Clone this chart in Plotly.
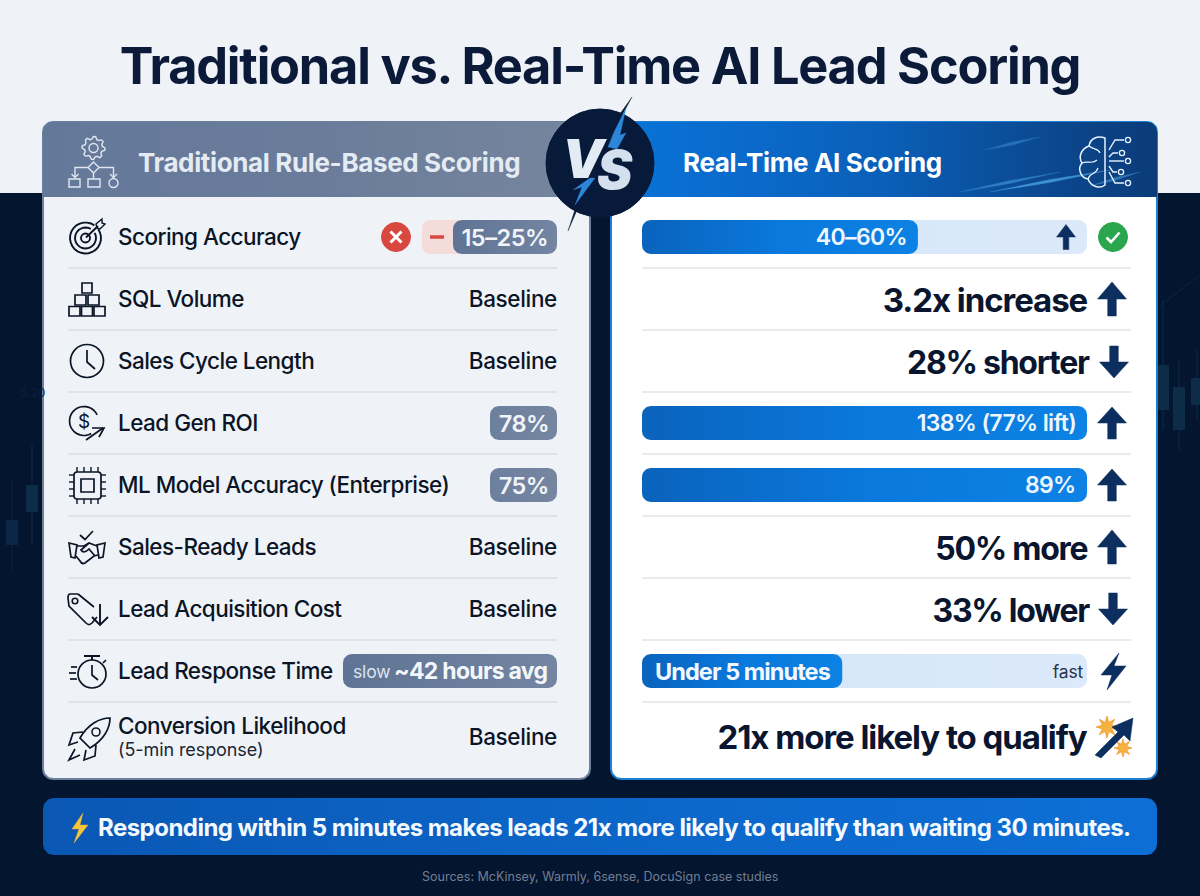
import json
import math
import plotly.graph_objects as go

title = "Traditional vs. Real-Time AI Lead Scoring"
left_header = "Traditional Rule-Based Scoring"
right_header = "Real-Time AI Scoring"
footer = "Responding within 5 minutes makes leads 21x more likely to qualify than waiting 30 minutes."
sources = "Sources: McKinsey, Warmly, 6sense, DocuSign case studies"

metrics = ["Scoring Accuracy", "SQL Volume", "Sales Cycle Length", "Lead Gen ROI",
           "ML Model Accuracy (Enterprise)", "Sales-Ready Leads", "Lead Acquisition Cost",
           "Lead Response Time", "Conversion Likelihood"]
traditional = ["15–25%", "Baseline", "Baseline", "78%", "75%", "Baseline", "Baseline",
               "~42 hours avg", "Baseline"]
ai_values = ["40–60%", "3.2x increase", "28% shorter", "138% (77% lift)", "89%", "50% more",
             "33% lower", "Under 5 minutes", "21x more likely to qualify"]
# how far each blue bar fills its track, None = plain text row
ai_fill = [0.62, None, None, 1.0, 1.0, None, None, 0.45, None]
# faint candles behind the panels
candle_x = [12, 32, 1163, 1179, 1197]
candle_open = [520, 485, 365, 387, 378]
candle_close = [545, 512, 410, 430, 405]
candle_low = [480, 445, 300, 360, 350]
candle_high = [570, 545, 430, 450, 420]

NAVY = "#04152f"
LIGHT = "#eff3f8"
INK = "#0b1526"
ARROW = "#0d2f5f"
SLATE = "#6c7f9d"
FONT = "Inter"

row_y = [237, 299, 361, 423, 485, 547, 609, 671, 737]
div_y = [268, 330, 392, 454, 516, 578, 640, 702]
L0, L1 = 68, 557
R0, R1 = 642, 1131
TRACK_END = 1087
BAR_H = 34

fig = go.Figure()
shapes = []
notes = []
spacing = []  # letter spacing per annotation, in em


def rr(x0, y0, x1, y1, r, top=True, bottom=True):
    xs, ys = [], []
    corners = [(x1 - r, y0 + r, -90, 0, top), (x1 - r, y1 - r, 0, 90, bottom),
               (x0 + r, y1 - r, 90, 180, bottom), (x0 + r, y0 + r, 180, 270, top)]
    for cx, cy, a0, a1, on in corners:
        if on:
            for i in range(9):
                a = math.radians(a0 + (a1 - a0) * i / 8)
                xs.append(cx + r * math.cos(a))
                ys.append(cy + r * math.sin(a))
        else:
            xs.append(x1 if cx > (x0 + x1) / 2 else x0)
            ys.append(y1 if cy > (y0 + y1) / 2 else y0)
    xs.append(xs[0])
    ys.append(ys[0])
    return xs, ys


def box(x0, y0, x1, y1, r, colors, line=None, lw=0, top=True, bottom=True, opacity=1):
    xs, ys = rr(x0, y0, x1, y1, r, top, bottom)
    grad = None
    if isinstance(colors, str):
        fc = colors
    else:
        fc = colors[0]
        n = len(colors) - 1
        grad = dict(type="horizontal", colorscale=[[i / n, c] for i, c in enumerate(colors)])
    t = go.Scatter(x=xs, y=ys, mode="lines", fill="toself", fillcolor=fc, hoverinfo="skip",
                   opacity=opacity, line=dict(color=line or fc, width=lw), showlegend=False)
    if grad:
        t.fillgradient = grad
    fig.add_trace(t)


def txt(x, y, s, size, color=INK, anchor="left", weight=400, ls=0, style="normal"):
    notes.append(dict(x=x, y=y, text=s, showarrow=False, xanchor=anchor, yanchor="middle",
                      align=anchor, borderpad=0, borderwidth=0,
                      font=dict(family=FONT, size=size, color=color, weight=weight, style=style)))
    spacing.append(ls)


def path(d, color=INK, w=1.7, fill=None, layer="above", opacity=1):
    shapes.append(dict(type="path", path=d, layer=layer, opacity=opacity,
                       fillcolor=fill or "rgba(0,0,0,0)",
                       line=dict(color=color, width=w)))


def poly(pts, closed=False, **kw):
    d = "M" + " L".join(f"{x:.1f},{y:.1f}" for x, y in pts) + (" Z" if closed else "")
    path(d, **kw)


def circ(cx, cy, r, color=INK, w=1.7, fill=None, layer="above"):
    shapes.append(dict(type="circle", x0=cx - r, x1=cx + r, y0=cy - r, y1=cy + r, layer=layer,
                       fillcolor=fill or "rgba(0,0,0,0)",
                       line=dict(color=color, width=w)))


def arc(cx, cy, r, a0, a1, n=24):
    return [(cx + r * math.cos(math.radians(a0 + (a1 - a0) * i / n)),
             cy + r * math.sin(math.radians(a0 + (a1 - a0) * i / n))) for i in range(n + 1)]


def block(x0, y0, x1, y1, w=1.7):
    poly([(x0, y0), (x1, y0), (x1, y1), (x0, y1)], closed=True, w=w)


def arrow(cx, cy, h, hw, down=False):
    s = -1 if down else 1
    stem = hw * 0.3
    head = h * 0.5
    top = cy - s * h / 2
    bot = cy + s * h / 2
    poly([(cx, top), (cx + hw, top + s * head), (cx + stem, top + s * head), (cx + stem, bot),
          (cx - stem, bot), (cx - stem, top + s * head), (cx - hw, top + s * head)],
         closed=True, color=ARROW, w=0.5, fill=ARROW)


# page background
shapes.append(dict(type="rect", x0=0, x1=1200, y0=0, y1=896, layer="below", fillcolor=NAVY, line_width=0))
shapes.append(dict(type="rect", x0=0, x1=1200, y0=0, y1=193, layer="below", fillcolor=LIGHT, line_width=0))
for i in range(len(candle_x)):
    col = "#0a2546" if i == 0 else "#0c2c48"
    cx = candle_x[i]
    poly([(cx, candle_low[i]), (cx, candle_high[i])], color=col, w=1, layer="below")
    shapes.append(dict(type="rect", x0=cx - 6, x1=cx + 6, y0=candle_open[i], y1=candle_close[i],
                       layer="below", fillcolor=col, line_width=0))
poly([(1158, 307), (1200, 275)], color="#0c2745", w=1, layer="below")
txt(20, 392, "5.20", 12, color="#0b2040")

txt(600, 65, title, 50.5, color="#0a1a38", anchor="center", weight=750, ls=-0.024)

# left panel
box(43, 122, 590, 779, 10, LIGHT, line="#6c7f9d", lw=2)
box(43, 122, 590, 197, 10, ["#64789a", "#6a7c9a", "#77869e"], bottom=False)
txt(138, 162, left_header, 26, color="#e4ebf3", weight=650, ls=-0.014)

# right panel
box(611, 122, 1157, 779, 10, "#ffffff", line="#1c7fd2", lw=2)
box(611, 122, 1157, 197, 10, ["#0874d8", "#0a6acb", "#0a5fb8", "#0b4c96", "#0b3b78"], bottom=False)
txt(683, 162, right_header, 26, color="#ffffff", weight=650, ls=-0.014)
for x0, y0, x1, y1, op in [(960, 192, 1060, 172, .45), (990, 192, 1110, 170, .65),
                           (985, 150, 1040, 137, .35), (1090, 186, 1140, 172, .45)]:
    poly([(x0, y0), ((x0 + x1) / 2, (y0 + y1) / 2 - 1.5), (x1, y1), ((x0 + x1) / 2, (y0 + y1) / 2 + 1.5)],
         closed=True, color="#58b8f5", w=0.3, fill="#58b8f5", opacity=op)

# dividers
for y in div_y:
    poly([(L0, y), (L1, y)], color="#d9dee5", w=1.3, layer="above")
    poly([(R0, y), (R1, y)], color="#dfe3e8", w=1.3, layer="above")

# left column labels and values
for name, val, y in zip(metrics, traditional, row_y):
    if name == "Conversion Likelihood":
        txt(118, y - 12, name, 22.5, weight=450, ls=-0.022)
        txt(118, y + 12, "(5-min response)", 18, color="#1b2536", ls=-0.005)
    else:
        txt(118, y - 1, name, 22.5, weight=450, ls=-0.024)
    if val == "Baseline":
        txt(L1, y - 1, val, 22.5, anchor="right", weight=550, ls=-0.015)

# left pills
box(422, 220, 472, 254, 8, "#f3dcd9")
box(453, 220, L1, 254, 9, ["#5f7394", "#7385a2"])
txt(505, 237, traditional[0], 23.5, color="#f0f4f8", anchor="center", weight=600, ls=-0.02)
poly([(430, 237), (444, 237)], color="#d9483f", w=3.5)
circ(396, 237, 14.5, color="#d9483f", w=1, fill="#d9483f")
poly([(390.5, 231.5), (401.5, 242.5)], color="#ffffff", w=3)
poly([(401.5, 231.5), (390.5, 242.5)], color="#ffffff", w=3)
for i in [3, 4]:
    box(490, row_y[i] - 17, L1, row_y[i] + 17, 9, ["#6c7f9d", "#7686a1"])
    txt(523.5, row_y[i], traditional[i], 23.5, color="#f0f4f8", anchor="center", weight=600, ls=-0.02)
box(343, 654, L1, 688, 9, ["#5f7394", "#7385a2"])
txt(353, 671, "slow", 17.5, color="#dde4ee", ls=-0.01)
txt(547, 671, traditional[7], 23, color="#f4f7fa", anchor="right", weight=650, ls=-0.03)

# right column: bars from ai_fill, the rest as big text
track_w = TRACK_END - R0
for val, frac, y in zip(ai_values, ai_fill, row_y):
    if frac is None:
        if y in (row_y[1], row_y[8]):
            txt(TRACK_END, y + (1 if y != 737 else 0), val, 33, color="#0a1630", anchor="right", weight=700, ls=-0.032)
        else:
            txt(TRACK_END + (2 if val != "50% more" else 0), y + 1, val, 32, color="#0a1630", anchor="right", weight=700, ls=-0.04)
        continue
    box(R0, y - BAR_H / 2, TRACK_END, y + BAR_H / 2, 9, ["#d3e5fa", "#dbe9fa"])
    box(R0, y - BAR_H / 2, R0 + track_w * frac, y + BAR_H / 2, 9, ["#0a63bd", "#0a78dc", "#0c82e4"])
    if y == row_y[7]:
        txt(R0 + 13, y, val, 23.5, color="#f2f8ff", weight=650, ls=-0.04)
        txt(1083, y, "fast", 17.5, color="#27344a", anchor="right", ls=-0.01)
    else:
        txt(R0 + track_w * frac - 11, y, val, 23, color="#eef6ff", anchor="right", weight=600, ls=-0.028)

arrow(1066, 237, 25, 9.5)
circ(1113, 237, 14.5, color="#2aa64e", w=1, fill="#2aa64e")
poly([(1106.5, 237.5), (1111, 242), (1119.5, 232.5)], color="#ffffff", w=2.6)
arrow(1112, 299, 34, 14.5)
arrow(1114, 362, 32, 14.5, down=True)
arrow(1112, 423, 32, 14.5)
arrow(1112, 485, 32, 14.5)
arrow(1112, 547, 34, 14.5)
arrow(1113, 609, 32, 14.5, down=True)
poly([(1119, 653), (1101, 675), (1112, 675), (1107, 690), (1126, 666), (1114, 666)],
     closed=True, color=ARROW, w=0.5, fill=ARROW)

# diagonal arrow with bursts next to the 21x row
for bx, by, br in [(1107, 727, 11), (1123, 748, 9)]:
    star = []
    for k in range(16):
        rad = br if k % 2 == 0 else br * 0.45
        star.append((bx + rad * math.cos(k * math.pi / 8), by + rad * math.sin(k * math.pi / 8)))
    poly(star, closed=True, color="#ef8a22", w=0.6, fill="#f6b23c")
poly([(1095, 755), (1118, 732), (1112, 727), (1133, 718), (1130, 741), (1124, 735), (1101, 758)],
     closed=True, color=ARROW, w=0.5, fill=ARROW)

# row icons, left column
# target
poly(arc(85.5, 238, 15.5, -35, 305), w=1.9)
poly(arc(85.5, 238, 10.5, -30, 300), w=1.9)
circ(85.5, 238, 4.5, w=1.9)
poly([(86, 237.5), (98, 226)], w=1.9)
poly([(96, 224), (97, 228), (100, 229), (105, 224), (102, 223), (102, 219)], closed=True, w=1.4)
# blocks
block(82, 283, 92, 293)
block(75, 295, 86, 305)
block(88, 295, 99, 305)
block(69, 306.5, 80, 316)
block(81.5, 306.5, 92.5, 316)
block(94, 306.5, 105, 316)
# clock
circ(87, 361, 16.5)
poly([(87, 350), (87, 362), (95, 369)])
# ROI
poly(arc(84, 421, 14.5, 60, 335), w=1.7)
txt(84, 421, "$", 19, anchor="center", weight=400)
poly([(86, 440), (103, 428)])
poly([(92, 428), (104, 428), (99, 437)])
# chip
xs, ys = rr(74, 472, 101, 499, 3)
poly(list(zip(xs, ys)), closed=True)
block(81, 479, 94, 492)
for k in range(4):
    p = 77 + k * 7
    q = 475 + k * 7
    poly([(p, 467), (p, 472)], w=1.4)
    poly([(p, 499), (p, 504)], w=1.4)
    poly([(69, q), (74, q)], w=1.4)
    poly([(101, q), (106, q)], w=1.4)
# handshake
poly([(69, 543), (77, 545), (75, 558), (71, 557)], closed=True)
poly([(105, 543), (97, 545), (99, 558), (103, 557)], closed=True)
path("M77,546 L84,546 L89,543 L97,546 M98,555 L94,556 L85,563 C83,564 81,563 80,561 L76,556 "
     "M89,543 L81,550 C83,553 86,552 89,549 L95,556")
poly([(80, 535), (85, 539.5), (93, 531)])
# tag
path("M78,594 L70,594 C68,594 68,596 68,598 L69,606 L86,623 C88,625 90,625 92,623 L97,617 M78,594 L94,607")
circ(75, 601, 2.8, w=1.6)
poly([(100, 604), (100, 625)], w=1.9)
poly([(92, 617), (100, 625), (108, 617)], w=1.9)
# stopwatch
circ(92, 674, 14)
poly([(84, 656), (100, 656)], w=2)
poly([(92, 656), (92, 660)], w=2)
poly([(92, 665), (92, 675), (98, 680)])
poly([(103, 663), (106, 660)])
poly([(71, 667), (77, 667)])
poly([(69, 673), (76, 673)])
poly([(70, 679), (77, 679)])
# rocket
path("M110,718 C100,718 88,724 80,738 L90,748 C104,740 110,728 110,718 Z")
circ(96, 732, 4, w=1.6)
path("M83,732 L73,733 L69,745 L78,742 M96,745 L95,756 L84,760 L86,750 M75,749 L69,760 L80,755")

# header icons
teeth = []
for k in range(32):
    rad = 11.5 if k % 4 < 2 else 9
    teeth.append((93.5 + rad * math.cos(k * math.pi / 16), 148 + rad * math.sin(k * math.pi / 16)))
H = "#dfe6ef"
poly(teeth, closed=True, color=H, w=1.4)
circ(93.5, 148, 4.5, color=H, w=1.4)
poly([(93.5, 162), (99, 167.5), (93.5, 173), (88, 167.5)], closed=True, color=H, w=1.4)
poly([(75, 177), (75, 167.5), (88, 167.5)], color=H, w=1.4)
poly([(99, 167.5), (113.5, 167.5), (113.5, 177)], color=H, w=1.4)
poly([(93.5, 173), (93.5, 179)], color=H, w=1.4)
poly([(71.5, 174), (75, 177.5), (78.5, 174)], color=H, w=1.4)
poly([(110, 174), (113.5, 177.5), (117, 174)], color=H, w=1.4)
poly([(69, 179), (80, 179), (80, 187), (69, 187)], closed=True, color=H, w=1.4)
poly([(88, 179), (100, 179), (100, 187), (88, 187)], closed=True, color=H, w=1.4)
circ(113.5, 183, 4.5, color=H, w=1.4)

W = "#e8f2ff"
path("M1105,138 C1097,135 1090,139 1089,146 C1081,149 1078,157 1082,163 C1077,169 1081,178 1088,179 "
     "C1091,187 1100,189 1105,185 Z", color=W, w=1.5)
path("M1089,146 C1094,150 1098,148 1100,153 M1082,163 C1088,160 1092,165 1097,160 M1088,179 C1090,172 1096,175 1098,168",
     color=W, w=1.2)
for pts, node in [([(1109, 150), (1115, 140), (1124, 140)], (1128, 140)),
                  ([(1109, 157), (1113, 153), (1118, 153)], (1122, 153)),
                  ([(1109, 161), (1124, 161)], (1128, 161)),
                  ([(1109, 166), (1113, 172), (1117, 172)], (1121, 172)),
                  ([(1109, 172), (1115, 183), (1124, 183)], (1128, 183))]:
    poly(pts, color=W, w=1.4)
    circ(node[0], node[1], 2.6, color=W, w=1.3)

# VS badge
circ(600, 163, 54, color="#071a3a", w=1, fill="#071a3a")
poly([(632, 97), (606, 145), (616, 140), (600, 170), (590, 180), (568, 231), (583, 185), (596, 160), (612, 125)],
     closed=True, color="#071a3a", w=0.4, fill="#071a3a")
txt(584, 159, "V", 53, color="#e3ebf4", anchor="center", weight=900, style="italic")
txt(615, 170, "S", 53, color="#d4e0ee", anchor="center", weight=900, style="italic")
poly([(626, 108), (620, 135), (626, 133), (617, 149), (608, 147), (614, 132)],
     closed=True, color="#2d86d8", w=0.3, fill="#2d86d8")
poly([(595, 178), (590, 178), (573, 190), (582, 187), (575, 205)],
     closed=True, color="#2d86d8", w=0.3, fill="#2d86d8")

# bottom banner
box(43, 798, 1157, 855, 11, ["#0a57b4", "#0c66c8", "#0d6fd6"])
poly([(83, 813), (72, 829), (79, 829), (74, 843), (88, 825), (80, 825)],
     closed=True, color="#f5b82e", w=0.4, fill="#f5c53c")
txt(98, 827, footer, 24, color="#f3f9ff", weight=680, ls=-0.022)
txt(600, 876, sources, 12.5, color="#727f93", anchor="center", ls=0)

fig.update_layout(
    width=1200, height=896, margin=dict(l=0, r=0, t=0, b=0), showlegend=False,
    paper_bgcolor=NAVY, plot_bgcolor=NAVY,
    xaxis=dict(range=[0, 1200], visible=False, fixedrange=True),
    yaxis=dict(range=[896, 0], visible=False, fixedrange=True),
    shapes=shapes, annotations=notes,
)
# plotly has no letter spacing option, Inter comes out wider than the reference
js = ("document.body.style.margin='0';var ls=" + json.dumps(spacing) + ";"
      "document.querySelectorAll('.annotation').forEach(function(a){"
      "var t=a.querySelector('.annotation-text');"
      "t.style.letterSpacing=ls[+a.getAttribute('data-index')]+'em';});")
fig.write_html("out.html", post_script=js, config={"displayModeBar": False})
